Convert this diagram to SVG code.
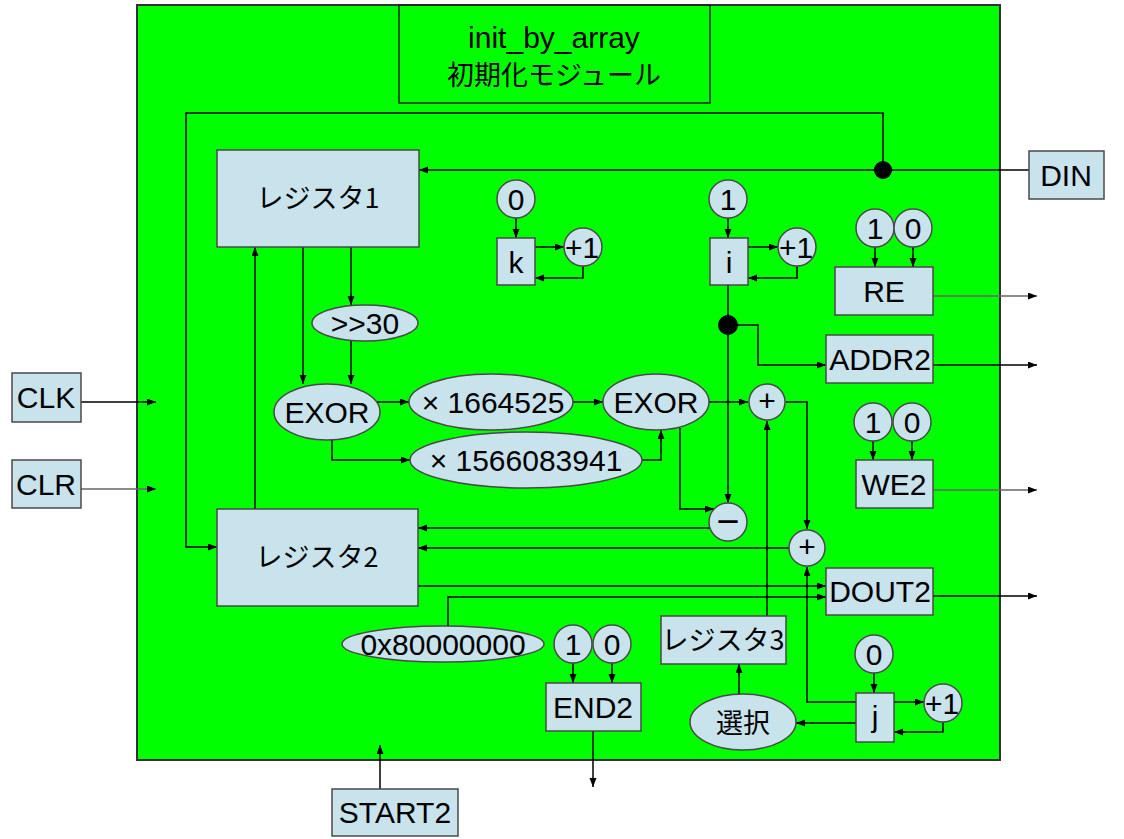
<svg xmlns="http://www.w3.org/2000/svg" width="1124" height="839" viewBox="0 0 1124 839">
<defs>
<marker id="ah" markerUnits="userSpaceOnUse" markerWidth="10" markerHeight="8" refX="9" refY="3.5" orient="auto"><path d="M0,0 L9,3.5 L0,7 z" fill="#000"/></marker>
<style>
.bx{fill:#C8E3EB;stroke:#4a4a4a;stroke-width:1.5}
.t{font-family:"Liberation Sans","Noto Sans CJK JP",sans-serif;font-size:30px;fill:#000;text-anchor:middle}
.j{font-family:"Noto Sans CJK JP","Liberation Sans",sans-serif;font-size:27px;fill:#000;text-anchor:middle}
.c{fill:none;stroke:#000;stroke-width:1.5}
.ca{fill:none;stroke:#000;stroke-width:1.5;marker-end:url(#ah)}
.g{fill:none;stroke:#666;stroke-width:1.5;marker-end:url(#ah)}
</style>
</defs>
<rect width="1124" height="839" fill="#fff"/>
<rect id="module" x="137" y="5" width="863" height="755" fill="#00FF00" stroke="#333" stroke-width="2"/>
<g id="title">
<rect x="399" y="5" width="311" height="98" fill="none" stroke="#222" stroke-width="1.5"/>
<text class="t" x="554" y="48" font-size="31">init_by_array</text>
<text class="j" x="554" y="85" font-size="30">初期化モジュール</text>
</g>
<g id="connectors">
<path class="ca" d="M1029,170 L419,170"/>
<path class="ca" d="M883,170 L883,113 L186,113 L186,547 L217,547"/>
<path class="ca" d="M81,402 L156,402"/>
<path class="g" d="M81,489 L156,489"/>
<path class="ca" d="M380,789 L380,745"/>
<path class="ca" d="M593,731 L593,787"/>
<path class="ca" d="M255,509 L255,247"/>
<path class="ca" d="M303,247 L303,384"/>
<path class="ca" d="M351,247 L351,305"/>
<path class="ca" d="M351,341 L351,384"/>
<path class="ca" d="M377,402 L409,402"/>
<path class="ca" d="M332,440 L332,460 L410,460"/>
<path class="ca" d="M573,402 L603,402"/>
<path class="ca" d="M642,460 L661,460 L661,430"/>
<path class="ca" d="M709,402 L748,402"/>
<path class="ca" d="M786,402 L807,402 L807,529"/>
<path class="ca" d="M680,428 L680,509 L714,509"/>
<path class="ca" d="M728,285 L728,503"/>
<path class="ca" d="M728,325 L758,325 L758,365 L826,365"/>
<path class="ca" d="M728,218 L728,238"/>
<path class="ca" d="M516,218 L516,238"/>
<path class="ca" d="M535,247 L564,247"/>
<path class="ca" d="M583,266 L583,278 L535,278"/>
<path class="ca" d="M748,247 L778,247"/>
<path class="ca" d="M797,266 L797,278 L748,278"/>
<path class="ca" d="M875,247 L875,267"/>
<path class="ca" d="M913,247 L913,267"/>
<path class="g" d="M933,296 L1037,296"/>
<path class="ca" d="M933,365 L1037,365"/>
<path class="g" d="M933,490 L1037,490"/>
<path class="ca" d="M933,596 L1037,596"/>
<path class="ca" d="M873,441 L873,460"/>
<path class="ca" d="M912,441 L912,460"/>
<path class="ca" d="M710,528 L418,528"/>
<path class="ca" d="M789,548 L418,548"/>
<path class="ca" d="M418,586 L826,586"/>
<path class="ca" d="M448,626 L448,597 L826,597"/>
<path class="ca" d="M767,616 L767,421"/>
<path class="ca" d="M856,702 L807,702 L807,567"/>
<path class="ca" d="M894,702 L924,702"/>
<path class="ca" d="M943,722 L943,732 L894,732"/>
<path class="ca" d="M856,723 L796,723"/>
<path class="ca" d="M739,694 L739,664"/>
<path class="ca" d="M874,673 L874,693"/>
<path class="ca" d="M573,663 L573,683"/>
<path class="ca" d="M612,663 L612,683"/>
<circle cx="883" cy="170" r="9" fill="#000"/>
<circle cx="728" cy="325" r="10" fill="#000"/>
</g>
<g id="DIN"><rect class="bx" x="1029" y="151" width="75" height="48"/><text class="t" x="1066" y="186">DIN</text></g>
<g id="CLK"><rect class="bx" x="12" y="373" width="69" height="49"/><text class="t" x="46" y="408">CLK</text></g>
<g id="CLR"><rect class="bx" x="12" y="460" width="69" height="48"/><text class="t" x="46" y="495">CLR</text></g>
<g id="START2"><rect class="bx" x="332" y="789" width="126" height="47"/><text class="t" x="395" y="823">START2</text></g>
<g id="reg1"><rect class="bx" x="217" y="150" width="202" height="97"/><text class="j" x="318" y="208">レジスタ1</text></g>
<g id="reg2"><rect class="bx" x="217" y="509" width="201" height="97"/><text class="j" x="317" y="567">レジスタ2</text></g>
<g id="reg3"><rect class="bx" x="661" y="616" width="125" height="48"/><text class="j" x="723" y="650" font-size="26">レジスタ3</text></g>
<g id="k"><rect class="bx" x="497" y="238" width="38" height="47"/><text class="t" x="516" y="273">k</text></g>
<g id="i"><rect class="bx" x="710" y="238" width="38" height="47"/><text class="t" x="729" y="273">i</text></g>
<g id="j"><rect class="bx" x="856" y="693" width="38" height="49"/><text class="t" x="875" y="727">j</text></g>
<g id="RE"><rect class="bx" x="835" y="267" width="98" height="48"/><text class="t" x="884" y="302">RE</text></g>
<g id="ADDR2"><rect class="bx" x="826" y="335" width="107" height="48"/><text class="t" x="880" y="370">ADDR2</text></g>
<g id="WE2"><rect class="bx" x="856" y="460" width="77" height="48"/><text class="t" x="894" y="495">WE2</text></g>
<g id="DOUT2"><rect class="bx" x="826" y="568" width="107" height="47"/><text class="t" x="880" y="602">DOUT2</text></g>
<g id="END2"><rect class="bx" x="546" y="683" width="95" height="48"/><text class="t" x="593" y="718">END2</text></g>
<g id="shr30"><ellipse class="bx" cx="365" cy="323" rx="53" ry="18"/><text class="t" x="365" y="334">&gt;&gt;30</text></g>
<g id="exor1"><ellipse class="bx" cx="327" cy="412" rx="53" ry="28"/><text class="t" x="327" y="423">EXOR</text></g>
<g id="mul1"><ellipse class="bx" cx="491" cy="402" rx="82" ry="28"/><text class="t" x="493" y="413">× 1664525</text></g>
<g id="mul2"><ellipse class="bx" cx="526" cy="460" rx="116" ry="28"/><text class="t" x="526" y="471">× 1566083941</text></g>
<g id="exor2"><ellipse class="bx" cx="656" cy="402" rx="53" ry="28"/><text class="t" x="656" y="413">EXOR</text></g>
<g id="const80"><ellipse class="bx" cx="443" cy="644" rx="101" ry="18"/><text class="t" x="443" y="655">0x80000000</text></g>
<g id="select"><ellipse class="bx" cx="743" cy="722" rx="53" ry="28"/><text class="j" x="743" y="733" font-size="29">選択</text></g>
<g id="k0"><circle class="bx" cx="516" cy="199" r="19"/><text class="t" x="516" y="210">0</text></g>
<g id="kinc"><circle class="bx" cx="583" cy="247" r="19"/><text class="t" x="582" y="258">+1</text></g>
<g id="i1"><circle class="bx" cx="728" cy="199" r="19"/><text class="t" x="728" y="210">1</text></g>
<g id="iinc"><circle class="bx" cx="797" cy="247" r="19"/><text class="t" x="796" y="258">+1</text></g>
<g id="re1"><circle class="bx" cx="875" cy="228" r="19"/><text class="t" x="875" y="239">1</text></g>
<g id="re0"><circle class="bx" cx="913" cy="228" r="19"/><text class="t" x="913" y="239">0</text></g>
<g id="we1"><circle class="bx" cx="873" cy="422" r="19"/><text class="t" x="873" y="433">1</text></g>
<g id="we0"><circle class="bx" cx="912" cy="422" r="19"/><text class="t" x="912" y="433">0</text></g>
<g id="plus1"><circle class="bx" cx="767" cy="402" r="18"/><text class="t" x="767" y="411" font-size="26">+</text></g>
<g id="minus"><circle class="bx" cx="728" cy="522" r="19"/><text class="j" x="728" y="532" font-weight="bold">－</text></g>
<g id="plus2"><circle class="bx" cx="807" cy="548" r="18"/><text class="t" x="807" y="557" font-size="26">+</text></g>
<g id="end1"><circle class="bx" cx="573" cy="644" r="19"/><text class="t" x="573" y="655">1</text></g>
<g id="end0"><circle class="bx" cx="612" cy="644" r="19"/><text class="t" x="612" y="655">0</text></g>
<g id="j0"><circle class="bx" cx="874" cy="654" r="19"/><text class="t" x="874" y="665">0</text></g>
<g id="jinc"><circle class="bx" cx="943" cy="703" r="19"/><text class="t" x="942" y="714">+1</text></g>
</svg>
